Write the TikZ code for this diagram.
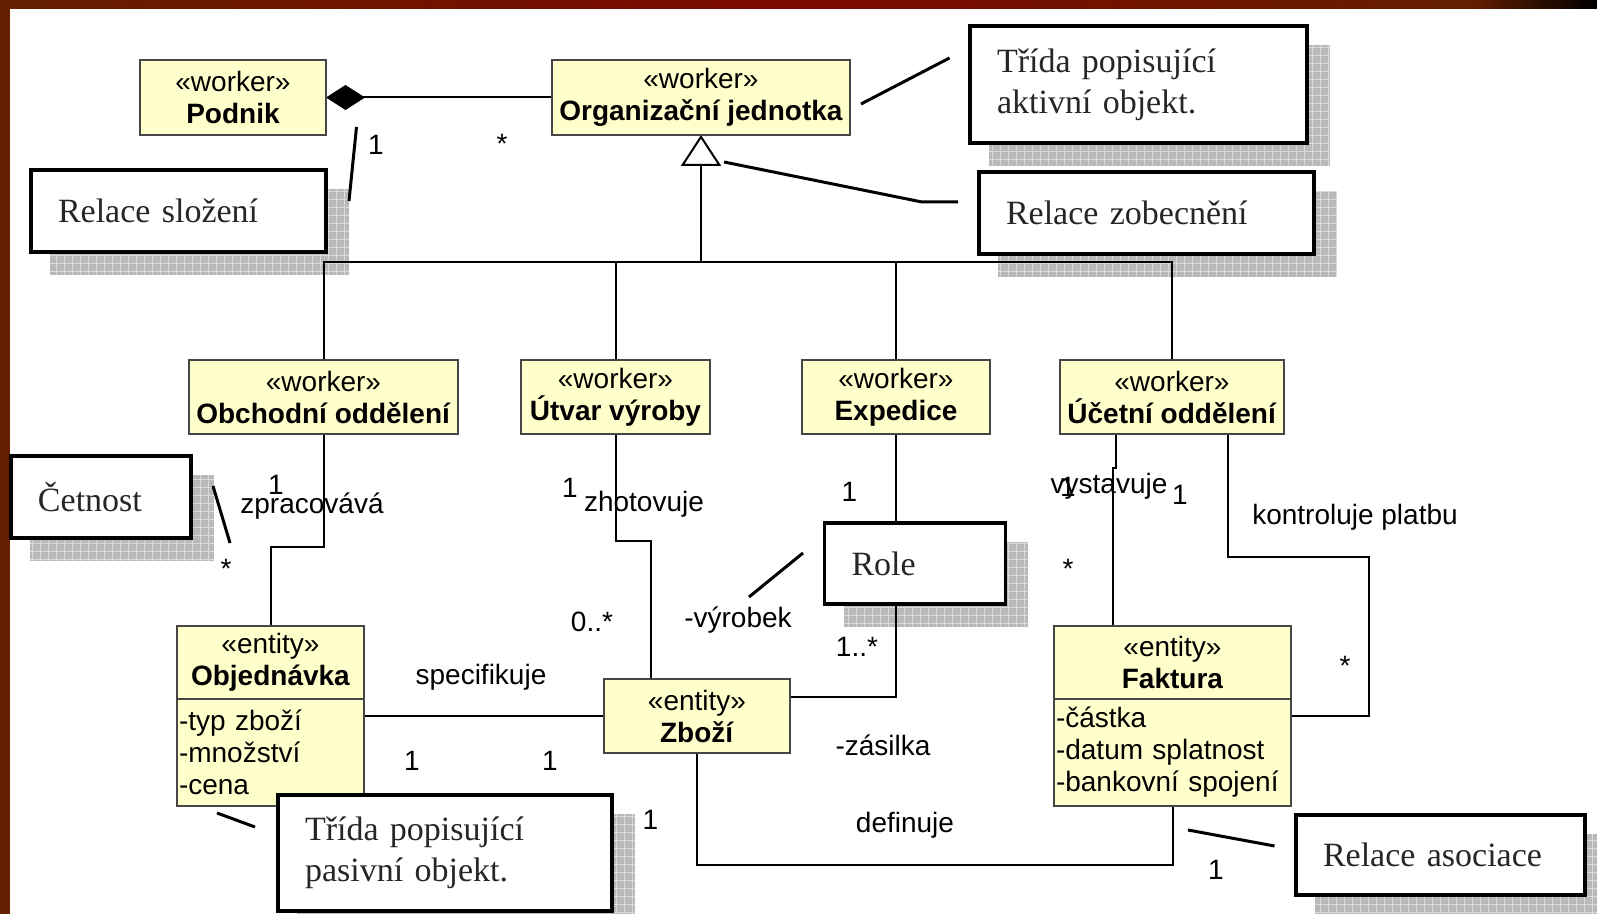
\documentclass[tikz,border=0pt]{standalone}
\usepackage{fontspec}
\setmainfont{Liberation Sans}
\newfontfamily\notefont{Liberation Serif}
\usetikzlibrary{arrows.meta,positioning}
\definecolor{clsfill}{RGB}{255,255,204}
\definecolor{clsline}{RGB}{70,70,70}
\definecolor{frameBrown}{RGB}{100,30,0}
\definecolor{frameRed}{RGB}{125,8,0}
\definecolor{shdwfill}{RGB}{185,185,185}
\definecolor{shdwgrid}{RGB}{218,218,218}
\pgfdeclarelayer{bg}
\pgfdeclarelayer{shadow}
\pgfdeclarelayer{edges}
\pgfsetlayers{bg,shadow,edges,main}
\begin{document}
\begin{tikzpicture}[x=0.5pt,y=-0.5pt,
		cls/.style={draw=clsline,fill=clsfill,line width=1pt,inner sep=0pt,outer sep=0pt,align=center,font=\fontsize{14pt}{16pt}\selectfont},
		attr/.style={cls,align=left,inner xsep=1pt},
		note/.style={draw,fill=white,line width=1.6pt,inner xsep=13.5pt,inner ysep=0pt,align=left,text=black!85,font=\notefont\fontsize{17pt}{20.5pt}\selectfont},
		lbl/.style={inner sep=0pt,font=\fontsize{14pt}{16pt}\selectfont},
		conn/.style={line width=1pt},
		pointer/.style={line width=1.5pt}]
	\useasboundingbox (0,0) rectangle (1597,914);
	\begin{pgfonlayer}{bg}
		\fill[white] (0,0) rectangle (1597,914);
		\fill[frameBrown] (0,0) rectangle (10,914);
		\shade[left color=frameBrown,right color=frameRed] (0,0) rectangle (800,9);
		\shade[left color=frameRed,right color=frameBrown] (800,0) rectangle (1470,9);
		\shade[left color=frameBrown,right color=black] (1470,0) rectangle (1597,9);
	\end{pgfonlayer}
	% classes
	\node[cls,minimum width=93pt,minimum height=37.5pt] (podnik) at (233,97.5) {«worker»\\\textbf{Podnik}};
	\node[cls,minimum width=149pt,minimum height=37.5pt] (org) at (701,97.5) {«worker»\\\textbf{Organizační jednotka}};
	\foreach \nm/\x/\w/\txt in {obch/323.5/134.5/Obchodní oddělení,utvar/615.5/94.5/Útvar výroby,exped/896/93.75/Expedice,ucet/1172/112/Účetní oddělení}
		\node[cls,minimum width=\w pt,minimum height=37pt] (\nm) at (\x,397) {«worker»\\\textbf{\txt}};
	\node[cls,minimum width=93.5pt,minimum height=36.5pt] (objHead) at (270.5,662.5) {«entity»\\\textbf{Objednávka}};
	\node[attr,text width=91.5pt,minimum height=53.5pt,below=0pt of objHead] (objAttr) {-typ zboží\\-množství\\-cena};
	\node[cls,minimum width=93pt,minimum height=37pt] (zbozi) at (697,716) {«entity»\\\textbf{Zboží}};
	\node[cls,minimum width=118.5pt,minimum height=36.5pt] (fakHead) at (1172.5,662.5) {«entity»\\\textbf{Faktura}};
	\node[attr,text width=116.5pt,minimum height=53.5pt,below=0pt of fakHead] (fakAttr) {-částka\\-datum splatnost\\-bankovní spojení};
	% notes
	\foreach \nm/\x/\y/\w/\h/\txt in {aktivni/1138.5/84.5/141.5/58.5/{Třída popisující\\aktivní objekt.},
			slozeni/178.5/211/120.5/41/Relace složení,zobecneni/1146.5/213/140.5/41/Relace zobecnění,
			cetnost/101/497/63/41/Četnost,role/915/563.5/63.5/40.5/Role,
			pasivni/445/853/140/58/{Třída popisující\\pasivní objekt.},asociace/1440.5/855/117.5/40/Relace asociace}
		\node[note,text width=\w pt,minimum height=\h pt] (\nm) at (\x,\y) {\txt};
	\begin{pgfonlayer}{shadow}
		\foreach \nm in {aktivni,slozeni,zobecneni,cetnost,role,pasivni,asociace}
			{
				\fill[shdwfill] ([shift={(10.5pt,-10.5pt)}]\nm.south west) rectangle ([shift={(10.5pt,-10.5pt)}]\nm.north east);
				\draw[shdwgrid,line width=0.5pt,step=4pt] ([shift={(10.5pt,-10.5pt)}]\nm.south west) grid ([shift={(10.5pt,-10.5pt)}]\nm.north east);
			}
	\end{pgfonlayer}
	% connectors
	\begin{pgfonlayer}{edges}
		\draw[conn,{Diamond[length=19.5pt,width=12.5pt]}-] (podnik.east) -- (org.west);
		\coordinate (bus) at (0,262);
		\draw[conn,{Triangle[open,length=15.5pt,width=20pt]}-] (org.south) -- (org.south |- bus);
		\draw[conn] (obch.north) |- (ucet.north |- bus) -- (ucet.north);
		\draw[conn] (utvar.north) -- (utvar.north |- bus);
		\draw[conn] (exped.north) -- (exped.north |- bus);
		\draw[conn] (obch.south) |- (objHead.north |- 0,547) -- (objHead.north);
		\coordinate (zbIn) at ([xshift=-23.25pt]zbozi.north);
		\draw[conn] (utvar.south) |- (zbIn |- 0,541) -- (zbIn);
		\draw[conn] (exped.south) |- ([yshift=9.5pt]zbozi.east);
		\coordinate (ucOut) at ([xshift=-28pt]ucet.south);
		\coordinate (fkIn) at ([xshift=-29.75pt]fakHead.north);
		\draw[conn] (ucOut) |- (fkIn |- 0,468) -- (fkIn);
		\coordinate (ucOut2) at ([xshift=27.75pt]ucet.south);
		\coordinate (kontrola) at (1369,557);
		\draw[conn] (ucOut2) |- (kontrola) |- ([yshift=-8.5pt]fakAttr.north east);
		\draw[conn] ([yshift=-8.5pt]objAttr.north east) -- (zbozi.west);
		\draw[conn] (zbozi.south) |- (fakAttr.south |- 0,865) -- (fakAttr.south);
		% note pointers
		\draw[pointer] (349,201) coordinate (slozeniTip) -- (356.5,127) coordinate (slozeniEnd);
		\draw[pointer] (861,104) coordinate (aktivniTip) -- (949.5,58) coordinate (aktivniEnd);
		\draw[pointer] (724,162) coordinate (zobecneniTip) -- (922,202) -- (958,202) coordinate (zobecneniEnd);
		\draw[pointer] (213,486) coordinate (cetnostTip) -- (230,543) coordinate (cetnostEnd);
		\draw[pointer] (749,597) coordinate (roleTip) -- (803,553) coordinate (roleEnd);
		\draw[pointer] (217,813) coordinate (pasivniTip) -- (255,827) coordinate (pasivniEnd);
		\draw[pointer] (1188,830) coordinate (asociaceTip) -- (1274.5,846) coordinate (asociaceEnd);
	\end{pgfonlayer}
	% labels
	\foreach \nm/\x/\y/\txt in {mPod/376/145/1,mOrg/502/144/*,mObch/276/485/1,lZprac/312/506/zpracovává,mObj/226/569/*,
			mUtv/570/488/1,lZhot/644/504/zhotovuje,mZb1/592/622/0..*,lVyr/738/620/-výrobek,
			mExp/849.5/492/1,mZb2/857/647/1..*,lZas/883/745/-zásilka,
			mUc1/1068/487/1,lVyst/1109/486/vystavuje,mFak1/1180/495/1,mFak2/1068/569/*,
			lKontr/1355/517/kontroluje platbu,mFak3/1345/666/*,
			lSpec/481/677/specifikuje,mObj2/412/761/1,mZb3/550/761/1,
			mZb4/650.5/820/1,lDef/905/825/definuje,mFak4/1216/870/1}
		\node[lbl] (\nm) at (\x,\y) {\txt};
\end{tikzpicture}
\end{document}
